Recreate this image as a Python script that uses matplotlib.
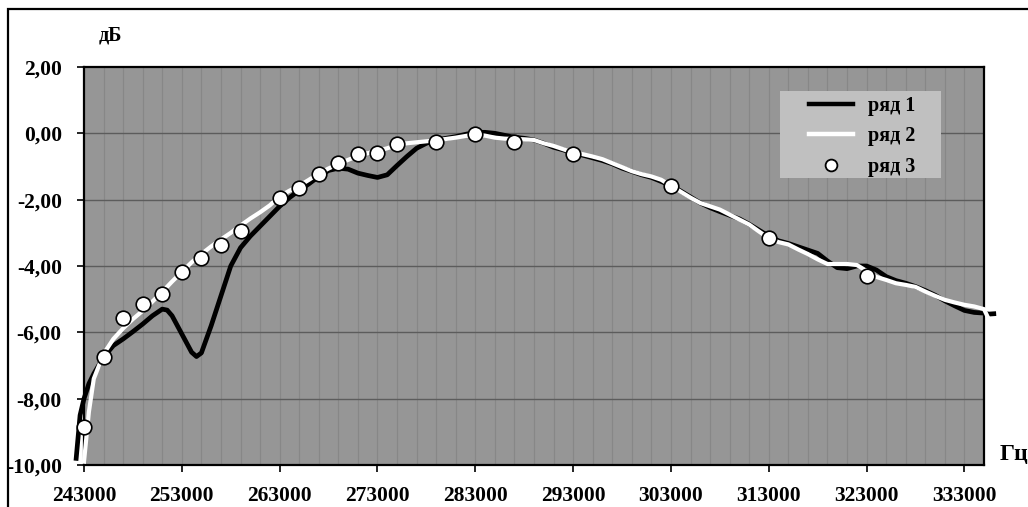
import numpy as np
import matplotlib
matplotlib.use("Agg")
import matplotlib.pyplot as plt
from matplotlib.patches import Rectangle
from matplotlib.lines import Line2D
from matplotlib.ticker import FixedLocator, FuncFormatter

# --- data -------------------------------------------------------------
# ряд 1: measured response (Hz, dB)
f1 = [242200, 242600, 243000, 243500, 244000, 245000, 246000, 247000, 248000,
      249000, 250000, 251000, 251500, 252000, 253000, 254000, 254500, 255000,
      256000, 257000, 258000, 259000, 260000, 261000, 262000, 263000, 264000,
      265000, 266000, 267000, 268000, 269000, 270000, 271000, 272000, 273000,
      274000, 275000, 276000, 277000, 278000, 279000, 280000, 281000, 282000,
      283000, 284000, 285000, 286000, 287000, 288000, 289000, 290000, 291000,
      292000, 293000, 294000, 295000, 296000, 297000, 298000, 299000, 300000,
      301000, 302000, 303000, 304000, 305000, 306000, 307000, 308000, 309000,
      310000, 311000, 312000, 313000, 314000, 315000, 316000, 317000, 318000,
      319000, 320000, 321000, 322000, 323000, 324000, 325000, 326000, 327000,
      328000, 329000, 330000, 331000, 332000, 333000, 334000, 335000, 335500,
      336000]
db1 = [-9.8, -8.5, -8.0, -7.55, -7.25, -6.75, -6.4, -6.2, -5.98,
       -5.75, -5.5, -5.3, -5.33, -5.5, -6.05, -6.6, -6.73, -6.62,
       -5.8, -4.9, -4.0, -3.45, -3.1, -2.8, -2.5, -2.2, -1.94,
       -1.72, -1.52, -1.3, -1.12, -1.05, -1.08, -1.2, -1.27, -1.33,
       -1.25, -0.97, -0.7, -0.45, -0.3, -0.2, -0.15, -0.1, -0.03,
       0.03, 0.03, 0.0, -0.06, -0.12, -0.15, -0.2, -0.3, -0.42,
       -0.5, -0.6, -0.66, -0.74, -0.82, -0.92, -1.05, -1.15, -1.25,
       -1.33, -1.45, -1.58, -1.74, -1.92, -2.1, -2.24, -2.36, -2.47,
       -2.58, -2.74, -2.92, -3.1, -3.24, -3.32, -3.42, -3.52, -3.62,
       -3.85, -4.05, -4.08, -4.0, -4.0, -4.12, -4.32, -4.44, -4.52,
       -4.62, -4.74, -4.88, -5.05, -5.2, -5.34, -5.4, -5.42, -5.45,
       -5.44]

# ряд 2: smoothed response (Hz, dB)
f2 = [243000, 243500, 244000, 245000, 246000, 247000, 248000, 249000, 250000,
      251000, 252000, 253000, 254000, 255000, 256000, 257000, 258000, 259000,
      260000, 261000, 262000, 263000, 264000, 265000, 266000, 267000, 268000,
      269000, 270000, 271000, 272000, 273000, 274000, 275000, 276000, 277000,
      278000, 279000, 280000, 281000, 282000, 283000, 284000, 285000, 286000,
      287000, 288000, 289000, 290000, 291000, 292000, 293000, 294000, 295000,
      296000, 297000, 298000, 299000, 300000, 301000, 302000, 303000, 304000,
      305000, 306000, 307000, 308000, 309000, 310000, 311000, 312000, 313000,
      314000, 315000, 316000, 317000, 318000, 319000, 320000, 321000, 322000,
      323000, 324000, 325000, 326000, 327000, 328000, 329000, 330000, 331000,
      332000, 333000, 334000, 335000, 335400]
db2 = [-9.9, -8.4, -7.4, -6.65, -6.2, -5.88, -5.6, -5.35, -5.07,
       -4.78, -4.47, -4.18, -3.89, -3.64, -3.41, -3.2, -3.0, -2.78,
       -2.57, -2.38, -2.17, -1.9, -1.73, -1.58, -1.4, -1.21, -1.06,
       -0.92, -0.8, -0.68, -0.6, -0.53, -0.45, -0.35, -0.3, -0.27,
       -0.24, -0.21, -0.17, -0.13, -0.08, -0.03, -0.07, -0.13, -0.16,
       -0.17, -0.18, -0.2, -0.3, -0.38, -0.48, -0.58, -0.63, -0.7,
       -0.78, -0.9, -1.02, -1.14, -1.23, -1.3, -1.4, -1.58, -1.76,
       -1.94, -2.1, -2.2, -2.3, -2.45, -2.6, -2.75, -2.96, -3.16,
       -3.28, -3.35, -3.5, -3.64, -3.8, -3.94, -3.94, -3.94, -3.97,
       -4.15, -4.33, -4.42, -4.52, -4.57, -4.63, -4.77, -4.9, -5.02,
       -5.1, -5.17, -5.22, -5.3, -5.55]

# ряд 3: reference points (Hz, dB)
f3 = [243000, 245000, 247000, 249000, 251000, 253000, 255000, 257000, 259000,
      263000, 265000, 267000, 269000, 271000, 273000, 275000, 279000, 283000,
      287000, 293000, 303000, 313000, 323000]
db3 = [-8.86, -6.74, -5.58, -5.16, -4.83, -4.18, -3.76, -3.36, -2.95,
       -1.95, -1.66, -1.22, -0.90, -0.62, -0.60, -0.33, -0.25, -0.03,
       -0.26, -0.62, -1.58, -3.17, -4.30]

series_names = ["ряд 1", "ряд 2", "ряд 3"]
x_ticks = list(range(243000, 333001, 10000))
y_ticks = [-10, -8, -6, -4, -2, 0, 2]

# --- style -------------------------------------------------------------
FONT = "Liberation Serif"
plt.rcParams["font.family"] = FONT
plt.rcParams["font.weight"] = "bold"

W, H = 1028, 507
fig = plt.figure(figsize=(W / 100, H / 100), dpi=100)
fig.patch.set_facecolor("white")


def fig_xy(px, py):
    """Pixel position (from top-left) to figure fraction."""
    return px / W, 1 - py / H


# outer frame of the chart sheet
fig.patches.append(Rectangle((8 / W, -0.2), 1.5, 1.2 - 9 / H,
                             transform=fig.transFigure, fill=False,
                             edgecolor="black", linewidth=1.6))

ax = fig.add_axes([84 / W, 1 - 465 / H, 900 / W, 398 / H])
ax.set_facecolor("#969696")
ax.set_xlim(243000, 335000)
ax.set_ylim(-10, 2)

# grid: thin vertical lines every 2 kHz, darker horizontal lines every 2 dB
for xv in np.arange(245000, 335000, 2000):
    ax.axvline(xv, color="#878787", linewidth=0.9, zorder=0.5)
for yv in y_ticks[1:-1]:
    ax.axhline(yv, color="#5c5c5c", linewidth=1.0, zorder=0.6)

ax.plot(f1, db1, color="black", linewidth=3.4, solid_joinstyle="round",
        clip_on=False, zorder=3)
ax.plot(f2, db2, color="white", linewidth=3.0, solid_joinstyle="round",
        clip_on=False, zorder=4)
ax.plot(f3, db3, linestyle="none", marker="o", markersize=10.5,
        markerfacecolor="white", markeredgecolor="black",
        markeredgewidth=1.2, clip_on=False, zorder=5)

ax.xaxis.set_major_locator(FixedLocator(x_ticks))
ax.yaxis.set_major_locator(FixedLocator(y_ticks))
ax.xaxis.set_major_formatter(FuncFormatter(lambda v, p: f"{int(round(v))}"))
ax.yaxis.set_major_formatter(
    FuncFormatter(lambda v, p: f"{v:.2f}".replace(".", ",")))
ax.tick_params(axis="both", direction="out", length=5, width=1.2,
               color="black", labelsize=15.5)
ax.tick_params(axis="x", pad=10)
ax.tick_params(axis="y", pad=11)
for lab in ax.get_xticklabels() + ax.get_yticklabels():
    lab.set_fontweight("bold")

for sp in ax.spines.values():
    sp.set_color("black")
    sp.set_linewidth(1.6)

# axis captions
fig.text(*fig_xy(110, 36), "дБ", ha="center", va="center",
         fontsize=14.5, fontweight="bold")
fig.text(*fig_xy(1000, 460), "Гц", ha="left", va="baseline",
         fontsize=17, fontweight="bold")

# legend: light grey panel with the series keys on top of it
lx0, ly0 = fig_xy(780, 178)
lx1, ly1 = fig_xy(941, 91)
fig.patches.append(Rectangle((lx0, ly0), lx1 - lx0, ly1 - ly0,
                             transform=fig.transFigure, facecolor="#c0c0c0",
                             edgecolor="none", zorder=6))

handles = [
    Line2D([], [], color="black", linewidth=3.2),
    Line2D([], [], color="white", linewidth=3.2),
    Line2D([], [], linestyle="none", marker="o", markersize=8.5,
           markerfacecolor="white", markeredgecolor="black",
           markeredgewidth=1.3),
]
leg = fig.legend(handles, series_names, loc="upper left",
                 bbox_to_anchor=fig_xy(809, 96),
                 frameon=False, borderpad=0, borderaxespad=0,
                 prop={"family": FONT, "weight": "bold", "size": 14.5},
                 handlelength=2.2, handletextpad=0.75, labelspacing=0.52)
leg.set_zorder(7)

fig.savefig("out.png", dpi=100)
